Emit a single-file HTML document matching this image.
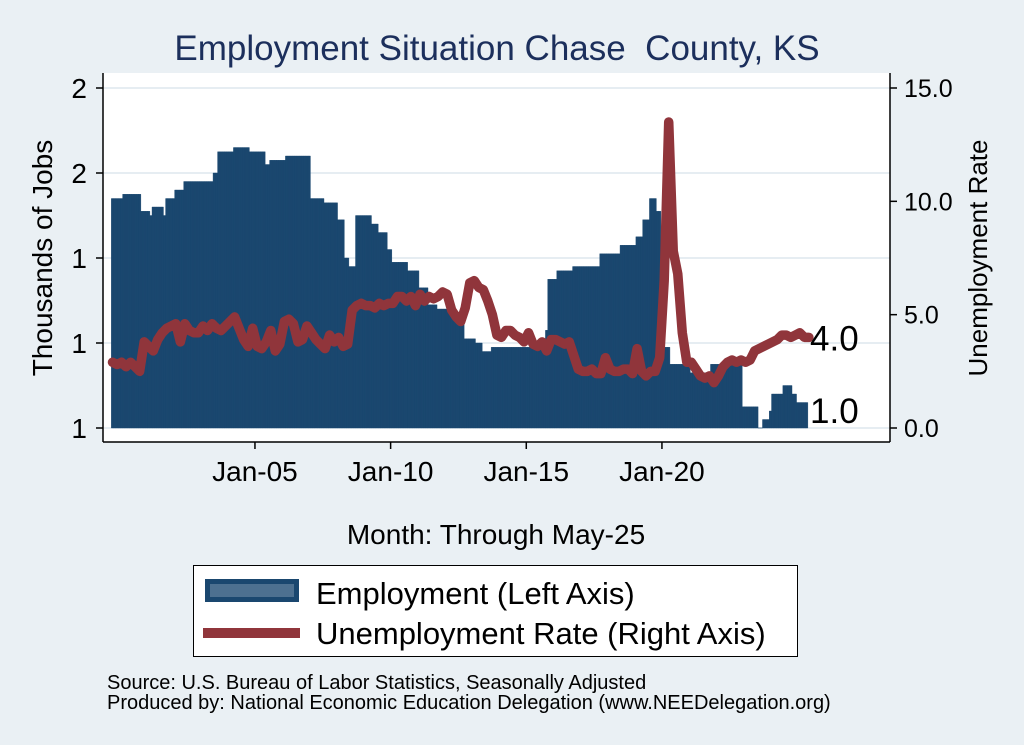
<!DOCTYPE html>
<html><head><meta charset="utf-8"><style>
body{margin:0;background:#eaf0f4;}
svg{display:block;font-family:"Liberation Sans",sans-serif;}
</style></head><body>
<svg id="chart" width="1024" height="745" viewBox="0 0 1024 745">
<rect x="0" y="0" width="1024" height="745" fill="#eaf0f4"/>
<text x="497" y="60" font-size="35" fill="#1c2f5c" text-anchor="middle">Employment Situation Chase&#160; County, KS</text>
<rect x="103" y="73" width="787" height="369" fill="#ffffff"/>
<g id="grid"></g>
<g id="bars"></g>
<g id="line"></g>
<g id="axes"></g>
<text x="52" y="258" font-size="28" fill="#000" text-anchor="middle" transform="rotate(-90 52 258)">Thousands of Jobs</text>
<text x="987" y="258" font-size="26" fill="#000" text-anchor="middle" transform="rotate(-90 987 258)">Unemployment Rate</text>
<text x="496" y="544" font-size="28" fill="#000" text-anchor="middle">Month: Through May-25</text>
<g>
<rect x="193.5" y="565.5" width="604" height="91" fill="#fff" stroke="#000" stroke-width="1"/>
<rect x="205" y="579" width="94" height="23" fill="#1a476f"/>
<rect x="210" y="584" width="84" height="13" fill="#4d7090"/>
<text x="316" y="604" font-size="31" fill="#000">Employment (Left Axis)</text>
<rect x="203" y="628" width="97" height="10" fill="#90353b"/>
<text x="316" y="644" font-size="31" fill="#000">Unemployment Rate (Right Axis)</text>
</g>
<text x="107" y="689" font-size="20" fill="#000">Source: U.S. Bureau of Labor Statistics, Seasonally Adjusted</text>
<text x="107" y="709" font-size="20" fill="#000">Produced by: National Economic Education Delegation (www.NEEDelegation.org)</text>
</svg>
<script>
// month index 0 = Jan 2000; employment series begins Oct 1999 (-3)
const empStart = -3;
const empValues = [
1.54,1.54,1.54,1.54,1.54,
1.55,1.55,1.55,1.55,1.55,1.55,1.55,1.55,
1.51,1.51,1.51,1.51,1.50,
1.52,1.52,1.52,1.52,1.52,1.50,
1.54,1.54,1.54,1.54,1.56,1.56,1.56,1.56,
1.58,1.58,1.58,1.58,1.58,1.58,1.58,1.58,1.58,1.58,1.58,1.58,1.58,
1.60,1.60,
1.65,1.65,1.65,1.65,1.65,1.65,1.65,
1.66,1.66,1.66,1.66,1.66,1.66,1.66,
1.65,1.65,1.65,1.65,1.65,1.65,1.65,
1.62,1.62,
1.63,1.63,1.63,1.63,1.63,1.63,1.63,
1.64,1.64,1.64,1.64,1.64,1.64,1.64,1.64,1.64,1.64,1.64,
1.54,1.54,1.54,1.54,1.54,1.54,
1.53,1.53,1.53,1.53,1.53,1.53,
1.49,1.49,1.49,1.40,1.40,1.38,1.38,1.38,
1.50,1.50,1.50,1.50,1.50,1.50,1.50,
1.48,1.48,1.48,1.46,1.46,1.46,1.46,1.42,1.42,
1.39,1.39,1.39,1.39,1.39,1.39,1.39,
1.37,1.37,1.37,1.37,1.37,
1.33,1.33,1.33,1.33,1.29,1.29,1.29,1.29,
1.28,1.28,1.28,1.28,1.28,
1.27,1.27,1.27,1.27,1.27,1.27,1.27,
1.21,1.21,1.21,1.21,1.21,1.20,1.20,1.20,
1.18,1.18,1.18,1.18,
1.19,1.19,1.19,1.19,1.19,1.19,1.19,1.19,1.19,1.19,1.19,1.19,
1.19,1.19,1.19,1.19,1.19,1.19,1.19,1.19,1.19,1.19,1.19,1.19,
1.23,1.35,1.35,1.35,1.35,
1.37,1.37,1.37,1.37,1.37,1.37,1.37,
1.38,1.38,1.38,1.38,1.38,1.38,1.38,
1.38,1.38,1.38,1.38,1.38,
1.41,1.41,1.41,1.41,1.41,1.41,1.41,1.41,1.41,
1.43,1.43,1.43,1.43,1.43,1.43,1.43,
1.45,1.45,1.45,1.49,1.49,1.49,1.54,1.54,1.54,1.51,1.51,
1.19,1.19,1.19,1.19,
1.15,1.15,1.15,1.15,1.15,1.15,1.15,1.15,1.15,
1.13,1.13,1.13,1.13,1.13,1.13,1.13,1.13,1.13,
1.15,1.15,1.15,1.15,1.15,1.15,1.15,1.15,1.15,1.15,1.15,1.15,1.15,1.15,
1.05,1.05,1.05,1.05,1.05,1.05,1.05,
1.00,1.00,1.02,1.02,1.02,1.04,
1.08,1.08,1.08,1.08,1.08,
1.10,1.10,1.10,1.10,1.08,1.08,
1.06,1.06,1.06,1.06,1.06
];
// unemployment rate sampled every other month, starting Oct 1999
const rateStart = -3;
const rateStep = 2;
const rateValues = [
2.9,2.8,2.9,2.7,2.9,2.7,2.5,3.8,3.6,3.4,3.9,4.2,4.4,4.5,4.6,3.8,4.6,4.3,4.2,4.2,
4.5,4.3,4.6,4.4,4.3,4.5,4.7,4.9,4.4,3.9,3.6,4.4,3.6,3.5,3.8,4.3,3.4,3.7,4.7,4.8,
4.6,3.8,3.9,4.5,4.2,3.9,3.7,3.5,4.1,3.8,4.0,3.6,3.7,5.2,5.4,5.5,5.4,5.4,5.3,5.5,
5.4,5.5,5.5,5.8,5.8,5.6,5.8,5.4,5.9,5.6,5.8,5.7,5.8,6.0,5.9,5.2,4.9,4.7,5.3,6.4,
6.5,6.2,6.1,5.6,5.0,4.1,4.0,4.3,4.3,4.1,4.0,3.8,4.2,3.7,3.6,3.8,3.4,3.9,3.9,3.8,
3.7,3.8,3.2,2.6,2.5,2.5,2.6,2.4,2.4,3.1,2.6,2.5,2.5,2.6,2.6,2.4,3.5,2.5,2.3,2.5,
2.5,3.1,6.5,13.5,7.8,6.8,4.2,2.9,2.9,2.6,2.3,2.2,2.3,2.0,2.3,2.7,2.9,3.0,2.9,3.0,
2.9,3.0,3.4,3.5,3.6,3.7,3.8,3.9,4.1,4.1,4.0,4.1,4.2,4.0,4.0
];
const leftTicks = [1.0,1.2,1.4,1.6,1.8];
const leftTickLabels = ["1","1","1","2","2"];
const rightTicks = [0,5,10,15];
const rightTickLabels = ["0.0","5.0","10.0","15.0"];
const xTickMonths = [60,120,180,240];
const xTickLabels = ["Jan-05","Jan-10","Jan-15","Jan-20"];

const NS = "http://www.w3.org/2000/svg";
const x = m => 119.3 + m * 2.261;
const yL = v => 428 - (v - 1.0) * 425;
const yR = v => 428 - v * (340 / 15);
function mk(tag, attrs, parent){const e=document.createElementNS(NS,tag);for(const k in attrs)e.setAttribute(k,attrs[k]);parent.appendChild(e);return e;}

const grid = document.getElementById('grid');
leftTicks.forEach((t,i)=>{
  const g = mk('line',{x1:103,x2:890,y1:yL(t),y2:yL(t),stroke:'#e6edf2','stroke-width':2},grid);
  
  
});

const bars = document.getElementById('bars');
let d = '';
empValues.forEach((v,i)=>{
  const m = empStart + i;
  const x0 = x(m) - 1.2, x1 = x(m) + 1.2;
  d += `M${x0.toFixed(2)},${yL(1.0)}L${x0.toFixed(2)},${yL(v).toFixed(2)}L${x1.toFixed(2)},${yL(v).toFixed(2)}L${x1.toFixed(2)},${yL(1.0)}Z`;
});
const bp = mk('path',{d:d,fill:'#1a476f',stroke:'#1a476f','stroke-width':0.4},bars);



const lineG = document.getElementById('line');
const pts = rateValues.map((v,i)=>x(rateStart + i*rateStep).toFixed(2)+','+yR(v).toFixed(2)).join(' ');
const pl = mk('polyline',{points:pts,fill:'none',stroke:'#90353b','stroke-width':9.5,'stroke-linejoin':'round','stroke-linecap':'round'},lineG);



const axes = document.getElementById('axes');
const la = mk('line',{x1:103,x2:103,y1:73,y2:442,stroke:'#000','stroke-width':1.5},axes);


const ra = mk('line',{x1:890,x2:890,y1:73,y2:442,stroke:'#000','stroke-width':1.5},axes);


const xa = mk('line',{x1:103,x2:890,y1:442,y2:442,stroke:'#000','stroke-width':1.5},axes);


leftTicks.forEach((t,i)=>{
  const tk = mk('line',{x1:96,x2:103,y1:yL(t),y2:yL(t),stroke:'#000','stroke-width':1.5},axes);
  
  
  const tx = mk('text',{x:87,y:yL(t)+10,'font-size':28,'text-anchor':'end',fill:'#000'},axes);
  tx.textContent = leftTickLabels[i];
  
  
});
rightTicks.forEach((t,i)=>{
  const tk = mk('line',{x1:890,x2:897,y1:yR(t),y2:yR(t),stroke:'#000','stroke-width':1.5},axes);
  
  
  const tx = mk('text',{x:904,y:yR(t)+9,'font-size':25,fill:'#000'},axes);
  tx.textContent = rightTickLabels[i];
  
  
});
xTickMonths.forEach((m,i)=>{
  const tk = mk('line',{x1:x(m),x2:x(m),y1:442,y2:449,stroke:'#000','stroke-width':1.5},axes);
  
  
  const tx = mk('text',{x:x(m),y:481,'font-size':28,'text-anchor':'middle',fill:'#000'},axes);
  tx.textContent = xTickLabels[i];
  
  
});
const lastRate = rateValues[rateValues.length-1];
const l1 = mk('text',{x:810,y:yR(lastRate)+13,'font-size':35,fill:'#000'},axes);
l1.textContent = lastRate.toFixed(1);


const l2 = mk('text',{x:810,y:423,'font-size':35,fill:'#000'},axes);
l2.textContent = '1.0';


</script>
</body></html>
